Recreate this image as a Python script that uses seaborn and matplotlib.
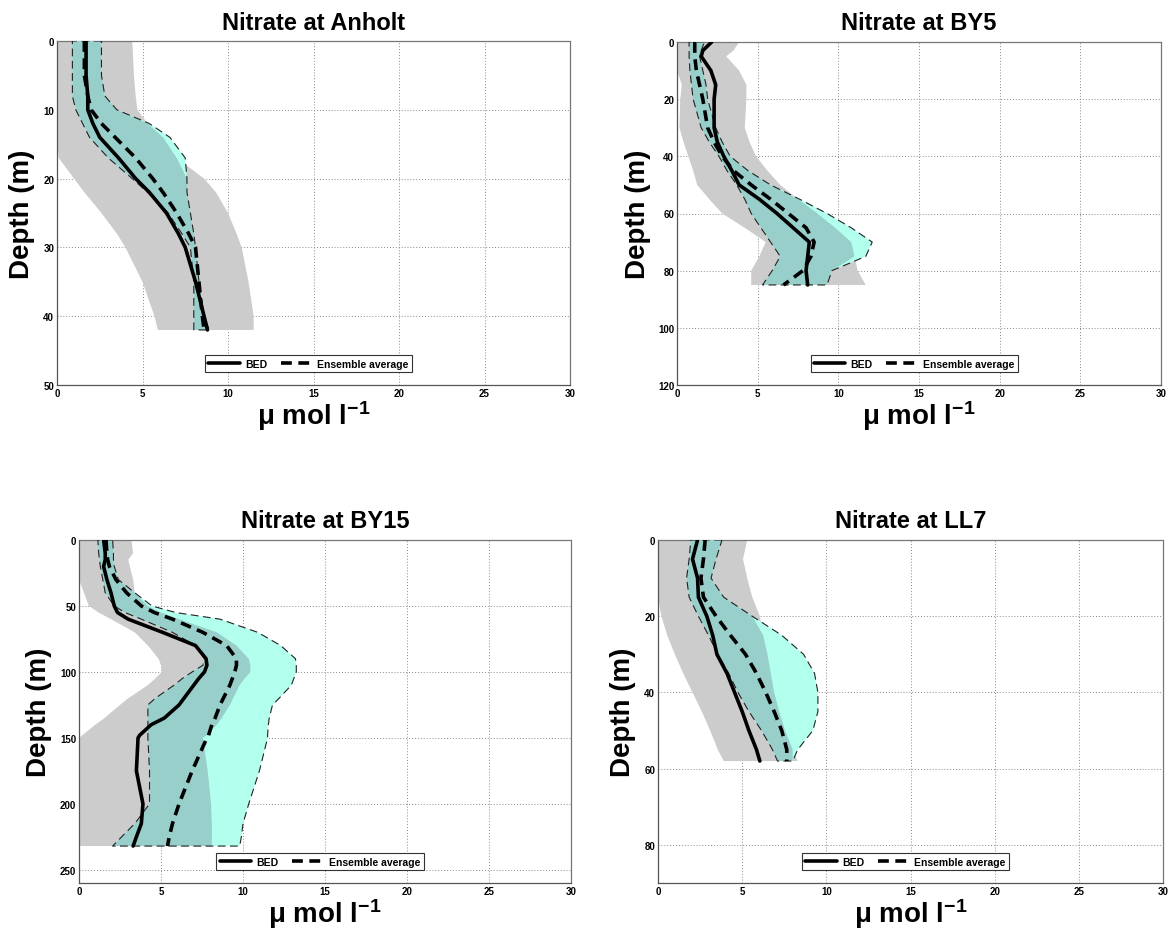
import numpy as np
import pandas as pd
import matplotlib
matplotlib.use("Agg")
import matplotlib.pyplot as plt
import seaborn as sns

# ---------------- data ----------------
titles = ["Nitrate at Anholt", "Nitrate at BY5", "Nitrate at BY15", "Nitrate at LL7"]
ymax_list = [50, 120, 260, 90]
ytick_steps = [10, 20, 50, 20]
ytick_max = [50, 120, 250, 80]
xticks = [0, 5, 10, 15, 20, 25, 30]

# Anholt
anholt_depth = [0, 5, 8, 10, 12, 14, 17, 20, 22, 25, 28, 30, 35, 40, 42]
anholt_bed = [1.7, 1.7, 1.8, 1.8, 2.1, 2.5, 3.6, 4.6, 5.4, 6.4, 7.1, 7.5, 8.1, 8.6, 8.8]
anholt_ens = [1.6, 1.6, 1.8, 2.0, 2.6, 3.4, 4.6, 5.6, 6.2, 7.0, 7.7, 8.1, 8.3, 8.5, 8.6]
anholt_ens_lo = [0.9, 0.9, 0.9, 1.1, 1.5, 1.9, 3.0, 4.4, 5.3, 6.5, 7.3, 7.8, 8.0, 8.0, 8.0]
anholt_ens_hi = [2.6, 2.6, 2.8, 3.5, 5.4, 6.6, 7.5, 7.6, 7.6, 7.8, 8.0, 8.1, 8.3, 8.6, 8.9]
anholt_obs_lo = [0, 0, 0, 0, 0, 0, 0.1, 1.0, 1.6, 2.6, 3.5, 4.0, 5.0, 5.7, 5.9]
anholt_obs_hi = [4.4, 4.5, 4.6, 4.7, 5.3, 6.2, 7.0, 8.6, 9.3, 10.0, 10.5, 10.8, 11.2, 11.5, 11.5]

# BY5
by5_depth = [0, 3, 5, 10, 15, 20, 30, 35, 40, 45, 50, 55, 60, 65, 70, 75, 80, 85]
by5_bed = [2.15, 1.6, 1.5, 2.1, 2.4, 2.3, 2.3, 2.5, 2.9, 3.4, 3.85, 5.1, 6.2, 7.2, 8.2, 8.1, 8.0, 8.1]
by5_ens = [1.1, 1.1, 1.1, 1.2, 1.4, 1.6, 1.9, 2.3, 2.8, 3.5, 4.6, 5.8, 6.9, 8.0, 8.5, 8.3, 7.8, 6.6]
by5_ens_lo = [0.75, 0.75, 0.75, 0.8, 0.9, 1.0, 1.5, 2.0, 2.6, 3.1, 3.7, 4.2, 4.6, 5.2, 5.8, 6.4, 5.9, 5.3]
by5_ens_hi = [1.7, 1.5, 1.4, 1.6, 1.8, 1.9, 2.4, 2.8, 3.3, 4.4, 5.8, 7.6, 9.3, 10.8, 12.1, 11.7, 9.6, 9.3]
by5_obs_lo = [0, 0, 0, 0, 0.3, 0.2, 0.15, 0.4, 0.7, 1.0, 1.25, 2.0, 2.8, 4.2, 5.5, 5.1, 4.6, 4.6]
by5_obs_hi = [3.85, 3.5, 3.05, 3.85, 4.3, 4.3, 4.2, 4.5, 4.9, 5.6, 6.4, 7.5, 8.7, 9.8, 10.8, 11.0, 11.2, 11.7]

# BY15
by15_depth = [0, 10, 15, 20, 30, 40, 50, 55, 60, 70, 80, 90, 95, 100, 105, 110, 120, 125,
              135, 140, 148, 150, 175, 200, 215, 225, 232]
by15_bed = [1.5, 1.6, 1.6, 1.5, 1.7, 1.95, 2.15, 2.35, 3.0, 5.1, 7.1, 7.75, 7.8, 7.65, 7.3, 7.0,
            6.4, 6.1, 5.2, 4.4, 3.7, 3.6, 3.5, 3.9, 3.8, 3.5, 3.3]
by15_ens = [1.65, 1.7, 1.75, 1.85, 2.25, 2.9, 3.8, 4.6, 5.7, 7.55, 9.0, 9.6, 9.6, 9.5, 9.35, 9.2,
            8.8, 8.6, 8.3, 8.1, 7.9, 7.8, 6.9, 6.1, 5.7, 5.5, 5.4]
by15_ens_lo = [1.15, 1.2, 1.25, 1.3, 1.45, 1.6, 2.15, 2.8, 3.8, 5.7, 7.1, 7.65, 7.55, 6.9, 6.3, 5.8,
               4.65, 4.2, 4.2, 4.2, 4.2, 4.2, 4.3, 4.3, 3.4, 2.6, 2.05]
by15_ens_hi = [2.05, 2.1, 2.1, 2.15, 2.4, 3.4, 4.45, 5.9, 8.6, 10.9, 12.3, 13.2, 13.25, 13.25, 13.1,
               12.95, 12.2, 11.8, 11.6, 11.55, 11.5, 11.5, 11.0, 10.35, 10.0, 9.9, 9.8]
by15_obs_lo = [0, 0, 0, 0, 0, 0.3, 0.6, 1.2, 1.95, 3.4, 4.2, 4.85, 5.0, 5.05, 4.65, 4.2, 3.0, 2.5,
               1.55, 1.0, 0.2, 0, 0, 0, 0, 0, 0]
by15_obs_hi = [3.2, 3.3, 3.0, 3.1, 3.3, 3.4, 4.2, 5.0, 6.1, 8.4, 9.6, 10.35, 10.45, 10.45, 10.1, 9.8,
               9.4, 9.2, 8.7, 8.4, 7.8, 7.55, 7.85, 8.05, 8.1, 8.1, 8.1]

# LL7
ll7_depth = [0, 5, 10, 15, 20, 25, 30, 35, 40, 45, 50, 55, 58]
ll7_bed = [2.35, 2.05, 2.35, 2.4, 2.9, 3.25, 3.5, 4.1, 4.55, 5.0, 5.4, 5.85, 6.05]
ll7_ens = [2.8, 2.7, 2.55, 2.7, 3.45, 4.3, 5.2, 5.85, 6.4, 6.9, 7.35, 7.65, 7.65]
ll7_ens_lo = [1.95, 1.85, 1.7, 1.85, 2.4, 3.0, 3.55, 4.2, 4.75, 5.4, 6.15, 6.8, 7.1]
ll7_ens_hi = [3.8, 3.45, 3.15, 3.9, 5.6, 7.35, 8.65, 9.3, 9.5, 9.5, 9.2, 8.3, 8.0]
ll7_obs_lo = [0, 0, 0, 0, 0.2, 0.55, 1.0, 1.5, 2.05, 2.6, 3.1, 3.55, 3.9]
ll7_obs_hi = [5.3, 5.05, 5.3, 5.6, 6.05, 6.25, 6.5, 6.7, 6.9, 7.2, 7.55, 8.0, 8.3]

panels = [
    (anholt_depth, anholt_bed, anholt_ens, anholt_ens_lo, anholt_ens_hi, anholt_obs_lo, anholt_obs_hi),
    (by5_depth, by5_bed, by5_ens, by5_ens_lo, by5_ens_hi, by5_obs_lo, by5_obs_hi),
    (by15_depth, by15_bed, by15_ens, by15_ens_lo, by15_ens_hi, by15_obs_lo, by15_obs_hi),
    (ll7_depth, ll7_bed, ll7_ens, ll7_ens_lo, ll7_ens_hi, ll7_obs_lo, ll7_obs_hi),
]

# ---------------- styling ----------------
sns.set_theme(style="whitegrid")
plt.rcParams["font.family"] = ["Liberation Sans", "DejaVu Sans"]
plt.rcParams["mathtext.fontset"] = "custom"
plt.rcParams["mathtext.rm"] = "Liberation Sans:bold"
plt.rcParams["mathtext.bf"] = "Liberation Sans:bold"
plt.rcParams["mathtext.default"] = "bf"
plt.rcParams["text.color"] = "black"
plt.rcParams["axes.labelcolor"] = "black"
plt.rcParams["xtick.color"] = "black"
plt.rcParams["ytick.color"] = "black"

GRAY = "#cccccc"
CYAN = "#b3ffee"
TEAL = "#99cfcb"

W, H = 1170, 937
fig = plt.figure(figsize=(W / 100, H / 100), dpi=100)
fig.patch.set_facecolor("white")

# axes boxes in pixels: left, right, top, bottom
boxes = [(57, 570, 42, 386), (677, 1161, 43, 386), (79, 571, 541, 884), (658, 1163, 541, 884)]
ylab_x = [-0.043, -0.054, -0.055, -0.044]

for i, (l, r, t, b) in enumerate(boxes):
    ax = fig.add_axes([l / W, 1 - b / H, (r - l) / W, (b - t) / H])
    depth, bed, ens, elo, ehi, olo, ohi = [np.asarray(v, dtype=float) for v in panels[i]]

    # observed range (gray)
    ax.fill_betweenx(depth, olo, ohi, facecolor=GRAY, edgecolor="none", zorder=1)
    # ensemble range (cyan)
    ax.fill_betweenx(depth, elo, ehi, facecolor=CYAN, edgecolor="none", zorder=2)
    # overlap
    lo = np.maximum(olo, elo)
    hi = np.minimum(ohi, ehi)
    ax.fill_betweenx(depth, lo, hi, where=hi > lo, interpolate=True,
                     facecolor=TEAL, edgecolor="none", zorder=3)
    # dashed outline of ensemble range
    ax.fill_betweenx(depth, elo, ehi, facecolor="none", edgecolor="#222222",
                     linestyle=(0, (7, 4)), linewidth=0.8, zorder=4)

    df = pd.DataFrame({"depth": depth, "BED": bed, "Ensemble average": ens})
    sns.lineplot(data=df, x="BED", y="depth", orient="y", sort=False, estimator=None,
                 color="black", linewidth=2.6, ax=ax, zorder=5, label="BED")
    sns.lineplot(data=df, x="Ensemble average", y="depth", orient="y", sort=False, estimator=None,
                 color="black", linewidth=2.6, linestyle=(0, (3, 1.8)), ax=ax, zorder=6,
                 label="Ensemble average")

    ax.set_xlim(0, 30)
    ax.set_ylim(ymax_list[i], 0)
    ax.set_xticks(xticks)
    ax.set_yticks(np.arange(0, ytick_max[i] + 1, ytick_steps[i]))
    ax.set_facecolor("white")
    ax.grid(True, color="#8a8a8a", linestyle=(0, (1, 2)), linewidth=0.7)
    ax.set_axisbelow(True)
    for side in ["left", "bottom"]:
        ax.spines[side].set_color("#555555")
        ax.spines[side].set_linewidth(0.9)
    for side in ["top", "right"]:
        ax.spines[side].set_color("#777777")
        ax.spines[side].set_linewidth(0.9)
        ax.spines[side].set_linestyle((0, (1, 1)))
    ax.tick_params(axis="both", which="both", direction="in", length=3, width=0.6,
                   labelsize=7, pad=2, colors="#555555", labelcolor="black")
    for lab in ax.get_xticklabels() + ax.get_yticklabels():
        lab.set_fontweight("bold")

    ax.set_title(titles[i], fontsize=17, fontweight="bold", pad=9, color="black")
    ax.set_ylabel("Depth (m)", fontsize=20, fontweight="bold", color="black")
    ax.yaxis.set_label_coords(ylab_x[i], 0.5)
    ax.set_xlabel(r"μ mol l$^{-1}$", fontsize=20, fontweight="bold", labelpad=0, color="black")

    handles, labels = ax.get_legend_handles_labels()
    leg = ax.legend(handles, labels, loc="lower center", bbox_to_anchor=(0.49, 0.022), ncol=2,
                    prop={"weight": "bold", "size": 7.5}, frameon=True,
                    fancybox=False, edgecolor="#333333", handlelength=3.0, columnspacing=1.3,
                    borderpad=0.35, handletextpad=0.5, framealpha=1)
    leg.get_frame().set_linewidth(0.8)
    leg.set_zorder(10)
    for txt in leg.get_texts():
        txt.set_color("black")

fig.savefig("out.png", dpi=100, facecolor="white")
